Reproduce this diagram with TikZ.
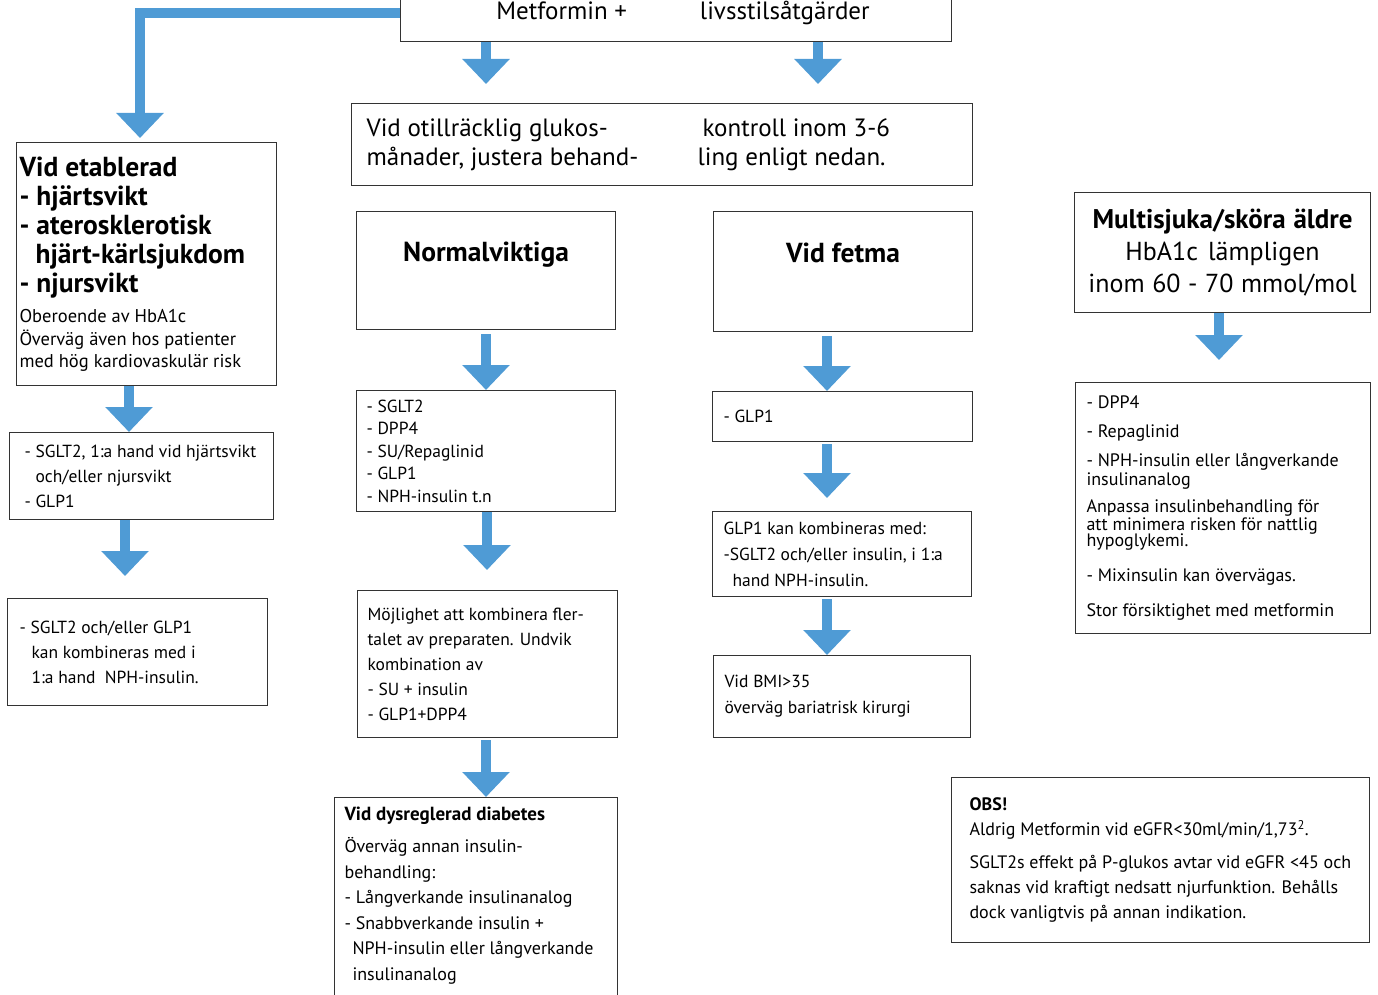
\documentclass[tikz,border=0pt]{standalone}
\usepackage{fontspec}
\setmainfont{PT Sans}
\usetikzlibrary{arrows.meta, positioning}
\definecolor{flowblue}{RGB}{79,155,213}
\tikzset{
  box/.style={draw=black!80, line width=1.1pt, anchor=north west, align=left, inner ysep=0pt,
    execute at begin node={\spaceskip=0pt\xspaceskip=0pt}},
  flow/.style={draw=flowblue, line width=10pt, -{Triangle[width=46pt,length=25pt]}},
  small/.style={font=\fontsize{17.5}{22.5}\selectfont},
  wide/.style={font=\fontsize{17.5}{25}\selectfont},
  large/.style={font=\fontsize{25}{29}\selectfont},
  head/.style={font=\fontsize{27.5}{32}\selectfont\bfseries},
}

\begin{document}
\begin{tikzpicture}[x=1pt, y=-1pt]
  \useasboundingbox (0,0) rectangle (1378,995);

  % start
  \node[box, large, align=center, minimum width=551pt, minimum height=57pt] (metf) at (400,-16)
    {\hspace*{14pt}Metformin +\hspace{73pt}livsstilsåtgärder};
  \node[box, large, inner xsep=15pt, text width=591pt, minimum height=82pt] (otill) at (351,103)
    {\makebox[331pt][l]{Vid otillräcklig glukos-}\hspace*{5pt}kontroll inom 3-6\\
     \makebox[331pt][l]{månader, justera behand-}ling enligt nedan.};

  % left column
  \node[box, inner xsep=3pt, text width=254pt, minimum height=243pt] (etab) at (16,142)
    {\fontsize{27.5}{29}\selectfont\bfseries Vid etablerad\\- hjärtsvikt\\- aterosklerotisk\\
     \hspace*{16pt}hjärt-kärlsjukdom\\- njursvikt\par\vspace{8pt}
     \fontsize{18.5}{22.5}\selectfont\mdseries Oberoende av HbA1c\\Överväg även hos patienter\\med hög kardiovaskulär risk\par};
  \node[box, wide, inner xsep=15pt, text width=234pt, minimum height=87pt] (sglt) at (9,432)
    {\mbox{- SGLT2, 1:a hand vid hjärtsvikt}\\\hspace*{11pt}och/eller njursvikt\\- GLP1};
  \node[box, wide, inner xsep=12pt, text width=236pt, minimum height=107pt] (kombl) at (7,598)
    {- SGLT2 och/eller GLP1\\\hspace*{12pt}kan kombineras med i\\\hspace*{12pt}1:a hand\ \ NPH-insulin.};

  % normalviktiga
  \node[box, head, inner sep=0pt, minimum width=259pt, text height=50pt, text depth=68pt] (normal) at (356,211) {Normalviktiga};
  \node[box, small, inner xsep=10pt, text width=239pt, minimum height=121pt] (normlist) at (356,390)
    {- SGLT2\\- DPP4\\- SU/Repaglinid\\- GLP1\\- NPH-insulin t.n\par\vspace{4pt}};
  \node[box, wide, inner xsep=10pt, text width=240pt, minimum height=147pt] (mojl) at (357,590)
    {Möjlighet att kombinera fler-\\talet av preparaten. Undvik\\kombination av\\- SU + insulin\\- GLP1+DPP4};
  \node[box, font=\fontsize{18}{25.5}\selectfont, inner xsep=10pt, inner ysep=9pt, text width=263pt] (dys) at (334,797)
    {\textbf{\fontsize{19}{25.5}\selectfont Vid dysreglerad diabetes}\par\vspace{7pt}Överväg annan insulin-\\behandling:\\- Långverkande insulinanalog\\
     - Snabbverkande insulin +\\\hspace*{8pt}NPH-insulin eller långverkande\\\hspace*{8pt}insulinanalog\\[40pt]\mbox{}\par};

  % fetma
  \node[box, head, inner sep=0pt, minimum width=259pt, text height=51pt, text depth=69pt] (fetma) at (713,211) {Vid fetma};
  \node[box, small, inner xsep=11pt, text width=238pt, minimum height=50pt] (glp) at (712,391) {- GLP1};
  \node[box, font=\fontsize{17.5}{26}\selectfont, inner xsep=11pt, text width=237pt, minimum height=85pt] (glpkomb) at (712,511)
    {GLP1 kan kombineras med:\\\mbox{-SGLT2 och/eller insulin, i 1:a}\\\hspace*{9pt}hand NPH-insulin.};
  \node[box, font=\fontsize{17.5}{26}\selectfont, inner xsep=11pt, text width=235pt, minimum height=82pt] (bmi) at (713,655)
    {Vid BMI>35\\överväg bariatrisk kirurgi};

  % multisjuka
  \node[box, font=\fontsize{26}{32}\selectfont, align=center, inner xsep=4pt, text width=288pt, minimum height=120pt] (multi) at (1074,192)
    {\textbf{\fontsize{27}{32}\selectfont Multisjuka/sköra äldre}\\HbA1c lämpligen\\inom 60 - 70 mmol/mol};
  \node[box, font=\fontsize{18}{18}\selectfont, inner xsep=11pt, text width=273pt, minimum height=251pt] (multlist) at (1075,382)
    {- DPP4\\[11pt]- Repaglinid\\[11pt]- NPH-insulin eller långverkande\\[1pt]insulinanalog\\[9pt]
     Anpassa insulinbehandling för\\att minimera risken för nattlig\\[-2pt]hypoglykemi.\\[17pt]
     - Mixinsulin kan övervägas.\\[17pt]Stor försiktighet med metformin\par\vspace{6pt}};

  % obs
  \node[box, font=\fontsize{18}{25}\selectfont, inner xsep=18pt, text width=382pt, minimum height=165pt] (obs) at (951,777)
    {\textbf{OBS!}\\Aldrig Metformin vid eGFR<30ml/min/1,73\textsuperscript{2}.\\[8pt]
     \mbox{SGLT2s effekt på P-glukos avtar vid eGFR <45 och}\\\mbox{saknas vid kraftigt nedsatt njurfunktion. Behålls}\\
     dock vanligtvis på annan indikation.\par\vspace{6pt}};

  % arrows
  \draw[flow, shorten >=4pt] (metf.west) -| (140,0 |- etab.north);
  \draw[flow, shorten >=19pt] (metf.south -| 486,0) -- (otill.north -| 486,0);
  \draw[flow, shorten >=19pt] (metf.south -| 818,0) -- (otill.north -| 818,0);
  \draw[flow] (etab.south -| 129,0) -- (sglt.north -| 129,0);
  \draw[flow, shorten >=22pt] (sglt.south -| 125,0) -- (kombl.north -| 125,0);
  \draw[flow, shorten <=4pt] (normal.south -| 486,0) -- (normlist.north -| 486,0);
  \draw[flow, shorten >=20pt] (normlist.south -| 487,0) -- (mojl.north -| 487,0);
  \draw[flow, shorten <=2pt] (mojl.south -| 486,0) -- (dys.north -| 486,0);
  \draw[flow, shorten <=4pt] (fetma.south -| 827,0) -- (glp.north -| 827,0);
  \draw[flow, shorten <=2pt, shorten >=13pt] (glp.south -| 827,0) -- (glpkomb.north -| 827,0);
  \draw[flow, shorten <=2pt] (glpkomb.south -| 827,0) -- (bmi.north -| 827,0);
  \draw[flow, shorten >=22pt] (multi.south -| 1219,0) -- (multlist.north -| 1219,0);
\end{tikzpicture}
\end{document}
